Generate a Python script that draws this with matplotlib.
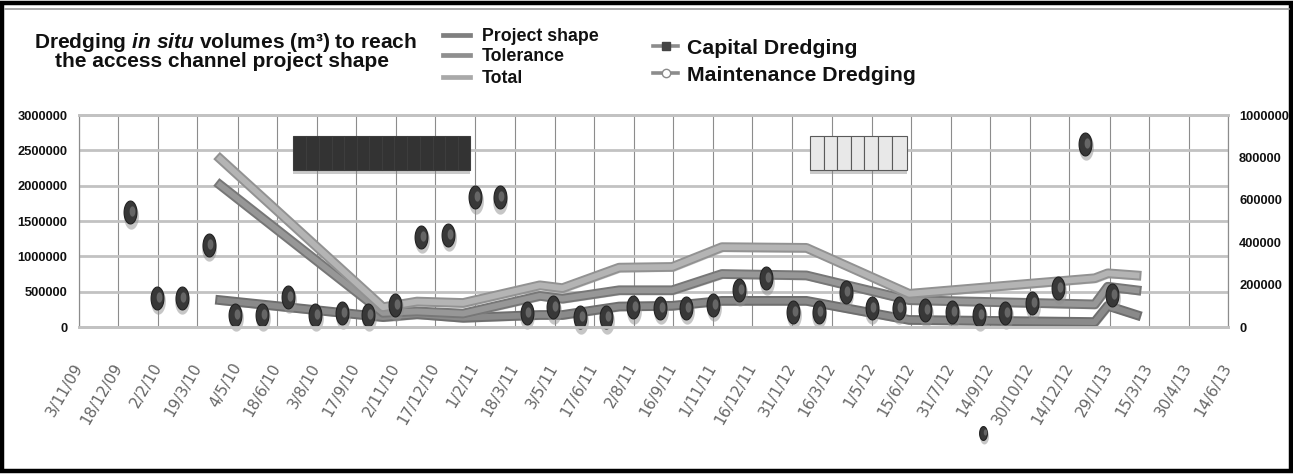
import numpy as np
import pandas as pd
import matplotlib
matplotlib.use("Agg")
import matplotlib.pyplot as plt
import matplotlib.dates as mdates
import matplotlib.patheffects as pe
from matplotlib.lines import Line2D
from matplotlib.patches import Rectangle
from matplotlib.path import Path
from matplotlib.transforms import offset_copy

# ---- data ----
tick_labels = ["3/11/09", "18/12/09", "2/2/10", "19/3/10", "4/5/10", "18/6/10",
               "3/8/10", "17/9/10", "2/11/10", "17/12/10", "1/2/11", "18/3/11",
               "3/5/11", "17/6/11", "2/8/11", "16/9/11", "1/11/11", "16/12/11",
               "31/1/12", "16/3/12", "1/5/12", "15/6/12", "31/7/12", "14/9/12",
               "30/10/12", "14/12/12", "29/1/13", "15/3/13", "30/4/13", "14/6/13"]

survey_dates = ["2010-04-14", "2010-10-18", "2010-11-26", "2011-01-18", "2011-04-16",
                "2011-05-12", "2011-07-16", "2011-09-15", "2011-11-11", "2012-02-16",
                "2012-06-13", "2013-01-12", "2013-01-27", "2013-03-01"]
project_shape = [2010000, 200000, 220000, 190000, 440000, 400000, 520000, 520000,
                 750000, 730000, 380000, 320000, 570000, 520000]
tolerance = [380000, 140000, 180000, 130000, 170000, 170000, 290000, 300000,
             370000, 370000, 100000, 70000, 300000, 170000]
total = [2380000, 280000, 360000, 340000, 590000, 550000, 840000, 850000,
         1130000, 1120000, 470000, 690000, 760000, 730000]

capital_dates = ["2010-07-01", "2010-08-01", "2010-09-01", "2010-10-01", "2010-11-01",
                 "2010-12-01", "2011-01-01"]
capital_volumes = [142000, 57000, 66000, 57000, 104000, 425000, 434000]

maintenance_dates = ["2010-01-01", "2010-02-01", "2010-03-01", "2010-04-01", "2010-05-01",
                     "2010-06-01", "2011-02-01", "2011-03-01", "2011-04-01", "2011-05-01",
                     "2011-06-01", "2011-07-01", "2011-08-01", "2011-09-01", "2011-10-01",
                     "2011-11-01", "2011-12-01", "2012-01-01", "2012-02-01", "2012-03-01",
                     "2012-04-01", "2012-05-01", "2012-06-01", "2012-07-01", "2012-08-01",
                     "2012-09-01", "2012-10-01", "2012-11-01", "2012-12-01", "2013-01-01",
                     "2013-02-01"]
maintenance_volumes = [542000, 137000, 137000, 387000, 57000, 57000, 613000, 613000,
                       66000, 94000, 47000, 47000, 94000, 90000, 90000, 104000, 175000,
                       231000, 71000, 71000, 165000, 90000, 90000, 80000, 71000, 57000,
                       66000, 113000, 184000, 864000, 151000]

stray_dates = ["2012-09-06"]
stray_volumes = [-500000]

# capital / maintenance dredging periods (segment boundaries)
capital_period = ["2010-07-07", "2010-07-22", "2010-08-05", "2010-08-20", "2010-09-03",
                  "2010-09-18", "2010-10-02", "2010-10-17", "2010-10-31", "2010-11-15",
                  "2010-11-29", "2010-12-14", "2010-12-28", "2011-01-12", "2011-01-26"]
maintenance_period = ["2012-02-20", "2012-03-07", "2012-03-22", "2012-04-07",
                      "2012-04-22", "2012-05-08", "2012-05-24", "2012-06-10"]
period_low, period_high = 2220000, 2700000

left_ticks = [0, 500000, 1000000, 1500000, 2000000, 2500000, 3000000]
right_ticks = [0, 200000, 400000, 600000, 800000, 1000000]


def num(dates):
    return mdates.date2num(pd.to_datetime(dates))


tick_x = num(pd.to_datetime(tick_labels, format="%d/%m/%y"))

W, H = 1293, 474
plt.rcParams["font.family"] = ["Liberation Sans", "DejaVu Sans"]
plt.rcParams["mathtext.fontset"] = "custom"
plt.rcParams["mathtext.rm"] = "Liberation Sans:bold"
plt.rcParams["mathtext.it"] = "Liberation Sans:italic:bold"

fig = plt.figure(figsize=(W / 100, H / 100), dpi=100)


def fx(px):
    return px / W


def fy(py):
    return 1 - py / H


ax = fig.add_axes([fx(79), fy(327), fx(1228) - fx(79), fy(115) - fy(327)])
ax2 = ax.twinx()

ax.set_xlim(tick_x[0], tick_x[-1])
ax.set_ylim(0, 3000000)
ax2.set_ylim(0, 1000000)

# grid
ax.set_axisbelow(True)
ax.set_xticks(tick_x)
ax.set_xticklabels(tick_labels)
ax.set_yticks(left_ticks)
ax.set_yticklabels([str(v) for v in left_ticks])
ax2.set_yticks(right_ticks)
ax2.set_yticklabels([str(v) for v in right_ticks])
ax.xaxis.grid(True, color="#8c8c8c", lw=0.8)
ax.yaxis.grid(True, color="#c2c2c2", lw=2.0)
for a in (ax, ax2):
    a.spines["left"].set_color("#8c8c8c")
    a.spines["right"].set_color("#8c8c8c")
    a.spines["left"].set_linewidth(0.8)
    a.spines["right"].set_linewidth(0.8)
    a.spines["top"].set_color("#c2c2c2")
    a.spines["bottom"].set_color("#c2c2c2")
    a.spines["top"].set_linewidth(2.0)
    a.spines["bottom"].set_linewidth(2.0)
    a.tick_params(length=0)

ax.tick_params(axis="y", pad=8.5)
ax2.tick_params(axis="y", pad=8.0)
ax.tick_params(axis="x", pad=27)
for lab in ax.get_yticklabels() + ax2.get_yticklabels():
    lab.set_fontweight("bold")
    lab.set_fontsize(9.3)
    lab.set_color("#111111")
for lab in ax.get_xticklabels():
    lab.set_family(["DejaVu Sans"])
    lab.set_fontsize(11)
    lab.set_color("#666666")
    lab.set_rotation(60)
    lab.set_ha("right")
    lab.set_va("center")
    lab.set_rotation_mode("anchor")

# period bars
shadow_tr = offset_copy(ax.transData, fig=fig, x=0, y=-4, units="dots")
for bounds, face, edge in [(capital_period, "#333333", "#3d3d3d"),
                           (maintenance_period, "#e8e8e8", "#5a5a5a")]:
    b = num(bounds)
    ax.bar(b[:-1], period_high - period_low, width=np.diff(b), bottom=period_low,
           align="edge", color="#8a8a8a", alpha=0.45, lw=0, zorder=2,
           transform=shadow_tr)
    ax.bar(b[:-1], period_high - period_low, width=np.diff(b), bottom=period_low,
           align="edge", color=face, edgecolor=edge, lw=0.8, zorder=3)

# volume lines
sx = num(survey_dates)
for vals, col, edge in [(tolerance, "#8a8a8a", "#6e6e6e"),
                        (project_shape, "#979797", "#777777"),
                        (total, "#b4b4b4", "#929292")]:
    ax.plot(sx, vals, color=col, lw=4.2, solid_joinstyle="round", zorder=4,
            path_effects=[pe.SimpleLineShadow(offset=(1, -1.5), shadow_color="#9a9a9a", alpha=0.45),
                          pe.Stroke(linewidth=7, foreground=edge), pe.Normal()])

# dredged volume markers (right axis)
theta = np.linspace(0, 2 * np.pi, 60)
ell = Path(np.column_stack([0.56 * np.cos(theta), np.sin(theta)]), closed=True)
sh_tr = offset_copy(ax2.transData, fig=fig, x=0.5, y=-2.5, units="points")
hl_tr = offset_copy(ax2.transData, fig=fig, x=1.2, y=0.5, units="points")
for d, v, ms in [(capital_dates, capital_volumes, 16.5),
                 (maintenance_dates, maintenance_volumes, 16.5),
                 (stray_dates, stray_volumes, 10)]:
    x = num(d)
    ax2.plot(x, v, ls="none", marker=ell, ms=ms * 1.15, mfc="#8f8f8f", mec="none",
             alpha=0.5, transform=sh_tr, clip_on=False)
    ax2.plot(x, v, ls="none", marker=ell, ms=ms, mfc="#383838", mec="#222222",
             mew=0.8, clip_on=False)
    ax2.plot(x, v, ls="none", marker=ell, ms=ms * 0.45, mfc="#666666", mec="none",
             transform=hl_tr, clip_on=False)

# title
title_kw = dict(fontsize=15, fontweight="bold", ha="center", va="baseline", color="#111111")
fig.text(fx(225), fy(48), r"Dredging $\mathit{in\ situ}$ volumes (m³) to reach", **title_kw)
fig.text(fx(222), fy(67), "the access channel project shape", **title_kw)

# legend 1
for name, col, yy in [("Project shape", "#7f7f7f", 35), ("Tolerance", "#8f8f8f", 55),
                      ("Total", "#a9a9a9", 77)]:
    fig.add_artist(Line2D([fx(443), fx(470)], [fy(yy), fy(yy)], color=col, lw=3.4))
    fig.text(fx(482), fy(yy + 6), name, fontsize=12.8, fontweight="bold",
             va="baseline", color="#111111")

# legend 2
for name, mk, mfc, mec, yy in [("Capital Dredging", "s", "#444444", "#444444", 46),
                                ("Maintenance Dredging", "o", "#ffffff", "#8a8a8a", 73)]:
    fig.add_artist(Line2D([fx(653), fx(678)], [fy(yy), fy(yy)], color="#8c8c8c", lw=2.6))
    fig.add_artist(Line2D([fx(665.5)], [fy(yy)], marker=mk, ms=6, mfc=mfc, mec=mec,
                          mew=1.0, ls="none"))
    fig.text(fx(687), fy(yy + 8), name, fontsize=15.3, fontweight="bold",
             va="baseline", color="#111111")

# outer frame
fig.add_artist(Rectangle((fx(2), fy(471)), fx(1289), fy(3) - fy(471), fill=False,
                         ec="black", lw=3.2, transform=fig.transFigure))
fig.add_artist(Line2D([fx(5), fx(1289)], [fy(9), fy(9)], color="#9a9a9a", lw=1.2))

fig.savefig("out.png", dpi=100)
